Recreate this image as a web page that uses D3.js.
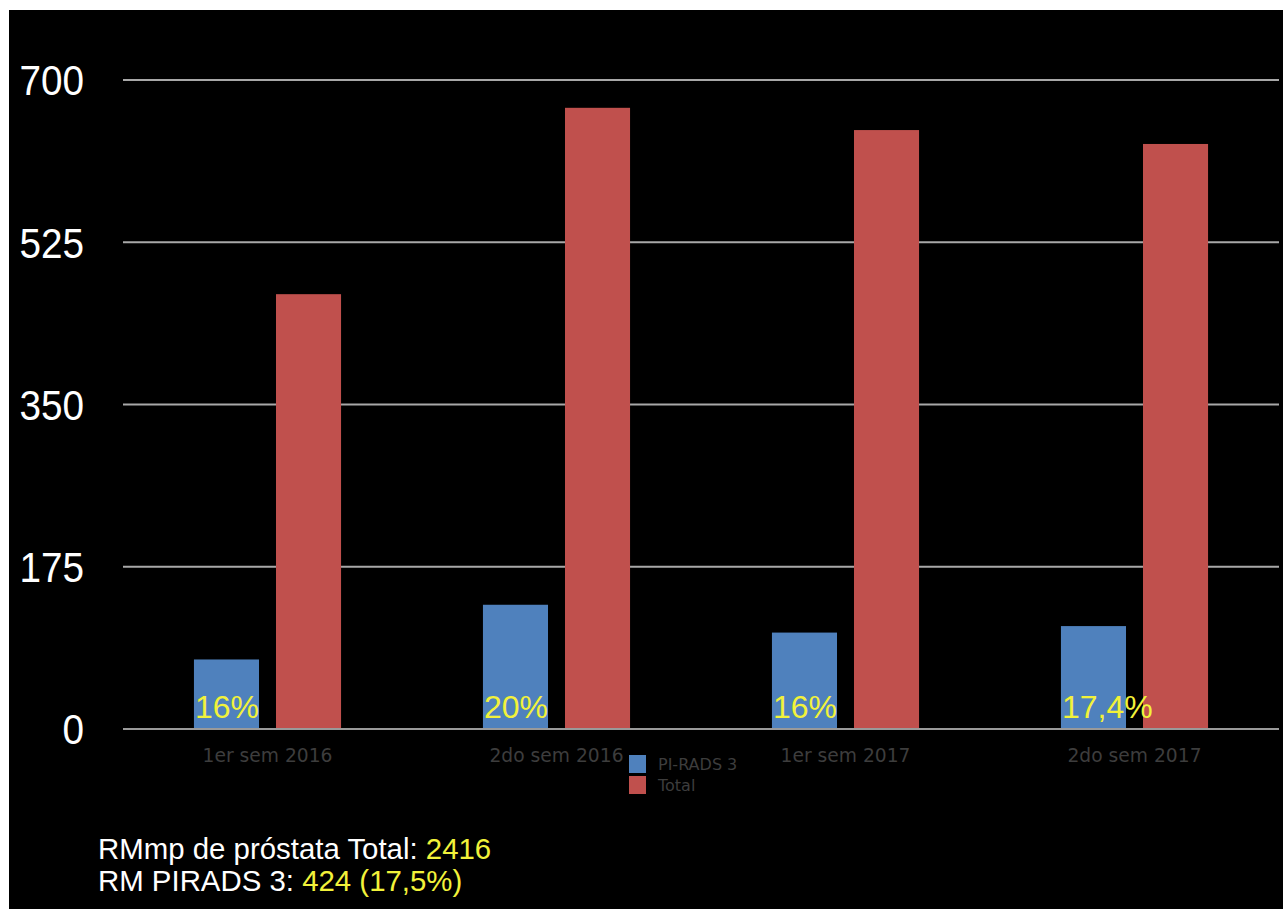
<!DOCTYPE html>
<html>
<head>
<meta charset="utf-8">
<script src="https://cdn.jsdelivr.net/npm/d3@7"></script>
<style>
  html, body { margin: 0; padding: 0; background: #fff; }
  svg { display: block; }
</style>
</head>
<body>
<svg id="chart" width="1283" height="909"></svg>
<script>
// data
const categories = ["1er sem 2016", "2do sem 2016", "1er sem 2017", "2do sem 2017"];
const seriesNames = ["PI-RADS 3", "Total"];
const pirads = [75, 134, 104, 111];
const total = [469, 670, 646, 631];
const pctLabels = ["16%", "20%", "16%", "17,4%"];
const yTicks = [0, 175, 350, 525, 700];

const colors = ["#4f81bd", "#c0504d"];

const svg = d3.select("#chart");

// black slide background (thin white edge left and top)
svg.append("rect")
    .attr("x", 9).attr("y", 10)
    .attr("width", 1283 - 9).attr("height", 909 - 10)
    .attr("fill", "#000");

const plot = { left: 123, right: 1279, top: 80, bottom: 729 };

const x = d3.scaleBand()
    .domain(categories)
    .range([plot.left, plot.right])
    .paddingInner(0.491)
    .paddingOuter(0.2455);

const xs = d3.scaleBand()
    .domain(seriesNames)
    .range([0, x.bandwidth()])
    .paddingInner(0.207);

const y = d3.scaleLinear()
    .domain([0, 700])
    .range([plot.bottom, plot.top]);

// gridlines
svg.append("g")
    .selectAll("line")
    .data(yTicks.filter(d => d > 0))
    .join("line")
    .attr("x1", plot.left).attr("x2", plot.right)
    .attr("y1", d => y(d)).attr("y2", d => y(d))
    .attr("stroke", "#a8a8a8")
    .attr("stroke-width", 2);

// y tick labels (slightly narrow face in the original)
svg.append("g")
    .selectAll("text")
    .data(yTicks)
    .join("text")
    .attr("transform", d => `translate(84,${y(d)}) scale(0.9,1)`)
    .attr("dy", "0.36em")
    .attr("text-anchor", "end")
    .attr("fill", "#fff")
    .style("font-family", "'Liberation Sans', Arial, sans-serif")
    .style("font-size", "43px")
    .text(d => d);

// bars
const rows = categories.map((c, i) => ({ cat: c, vals: [pirads[i], total[i]], pct: pctLabels[i] }));

const groups = svg.append("g")
    .selectAll("g")
    .data(rows)
    .join("g")
    .attr("transform", d => `translate(${x(d.cat)},0)`);

groups.selectAll("rect")
    .data(d => d.vals.map((v, k) => ({ key: seriesNames[k], v, k })))
    .join("rect")
    .attr("x", d => xs(d.key))
    .attr("y", d => y(d.v))
    .attr("width", xs.bandwidth())
    .attr("height", d => y(0) - y(d.v))
    .attr("fill", d => colors[d.k]);

// baseline
svg.append("line")
    .attr("x1", plot.left).attr("x2", plot.right)
    .attr("y1", y(0)).attr("y2", y(0))
    .attr("stroke", "#9a9a9a")
    .attr("stroke-width", 2);

// percentage labels
groups.append("text")
    .attr("x", xs(seriesNames[0]) + 1)
    .attr("y", y(0) - 11)
    .attr("fill", "#f2f23a")
    .style("font-family", "'Liberation Sans', Arial, sans-serif")
    .style("font-size", "32px")
    .text(d => d.pct);

// x labels
svg.append("g")
    .selectAll("text")
    .data(categories)
    .join("text")
    .attr("x", d => x(d) + x.bandwidth() / 2)
    .attr("y", 762)
    .attr("text-anchor", "middle")
    .attr("fill", "#3d3d3d")
    .style("font-family", "'DejaVu Sans', Verdana, sans-serif")
    .style("font-size", "18.7px")
    .text(d => d);

// legend
const legend = svg.append("g").attr("transform", "translate(629,755)");
seriesNames.forEach((name, i) => {
    legend.append("rect")
        .attr("x", 0).attr("y", i * 21)
        .attr("width", 17).attr("height", 18)
        .attr("fill", colors[i]);
    legend.append("text")
        .attr("x", 29).attr("y", i * 21 + 15)
        .attr("fill", "#3d3d3d")
        .style("font-family", "'DejaVu Sans', Verdana, sans-serif")
        .style("font-size", "16px")
        .text(name);
});

// summary note
const note = svg.append("g")
    .style("font-family", "'Liberation Sans', Arial, sans-serif")
    .style("font-size", "29.4px");
const l1 = note.append("text").attr("x", 98).attr("y", 859).attr("fill", "#fff");
l1.append("tspan").text("RMmp de próstata Total: ");
l1.append("tspan").attr("fill", "#f2f23a").text(d3.sum(total));
const l2 = note.append("text").attr("x", 98).attr("y", 891).attr("fill", "#fff");
l2.append("tspan").text("RM PIRADS 3: ");
l2.append("tspan").attr("fill", "#f2f23a").text(d3.sum(pirads) + " (17,5%)");
</script>
</body>
</html>
